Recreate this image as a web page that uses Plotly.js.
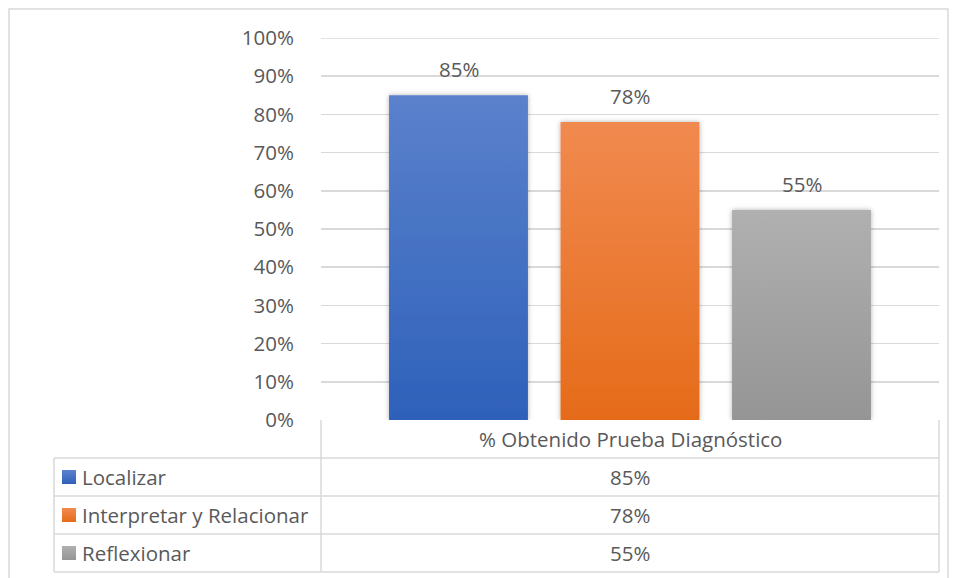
<!DOCTYPE html>
<html>
<head>
<meta charset="utf-8">
<script src="https://cdn.plot.ly/plotly-3.0.1.min.js"></script>
<style>html,body{margin:0;padding:0;background:#fff;}#chart{width:957px;height:578px;}</style>
</head>
<body>
<div id="chart"></div>
<script>
// ---- data ----
const seriesNames = ["Localizar", "Interpretar y Relacionar", "Reflexionar"];
const seriesValues = [0.85, 0.78, 0.55];
const categoryLabel = "% Obtenido Prueba Diagnóstico";
const yTickValues = [0, 0.1, 0.2, 0.3, 0.4, 0.5, 0.6, 0.7, 0.8, 0.9, 1.0];

// ---- style ----
const seriesColors = ["#4472C4", "#EC7A34", "#A2A2A2"];
const gradTop = ["#5B81CC", "#F18A50", "#B0B0B0"];
const gradBottom = ["#2E61BA", "#E56B19", "#959595"];
const textColor = "#595959";
const lineColor = "#D9D9D9";
const FONT = "'Open Sans', Arial, sans-serif";
const FS = 20.5;

// plot geometry (pixels)
const W = 957, H = 578;
const L = 321, R = 939, T = 38, B = 420;
const xp = px => (px - L) / (R - L);
const yp = py => (B - py) / (B - T);

const pct = v => Math.round(v * 100) + "%";

const trace = {
  type: "bar",
  x: seriesNames,
  y: seriesValues,
  marker: { color: seriesColors },
  hoverinfo: "none",
  showlegend: false
};

const shapes = [];
const annotations = [];

// outer chart border
shapes.push({type:"rect", xref:"paper", yref:"paper", x0:xp(9), x1:xp(948), y0:yp(9), y1:yp(600),
  line:{color:lineColor, width:1.5}, fillcolor:"rgba(0,0,0,0)", layer:"below"});

// top gridline (100%)
shapes.push({type:"line", xref:"paper", yref:"y", x0:0, x1:1, y0:1, y1:1, line:{color:lineColor, width:1.5}, layer:"below"});

// data table grid
const rowH = 38;
const headerTop = 420, headerBot = 458;
const tblLeft = 54, midX = 321, tblRight = 939;
const hline = (x0, x1, y) => shapes.push({type:"line", xref:"paper", yref:"paper", x0:xp(x0), x1:xp(x1), y0:yp(y), y1:yp(y), line:{color:lineColor, width:1.5}});
const vline = (x, y0, y1) => shapes.push({type:"line", xref:"paper", yref:"paper", x0:xp(x), x1:xp(x), y0:yp(y0), y1:yp(y1), line:{color:lineColor, width:1.5}});

vline(midX, headerTop, headerBot + rowH * seriesNames.length);
vline(tblRight, headerTop, headerBot + rowH * seriesNames.length);
vline(tblLeft, headerBot, headerBot + rowH * seriesNames.length);
for (let i = 0; i <= seriesNames.length; i++) {
  hline(tblLeft, tblRight, headerBot + rowH * i);
}

// header text
annotations.push({xref:"paper", yref:"paper", x:xp((midX + tblRight) / 2), y:yp((headerTop + headerBot) / 2),
  text:categoryLabel, showarrow:false, xanchor:"center", yanchor:"middle", font:{family:FONT, size:FS, color:textColor}});

seriesNames.forEach((name, i) => {
  const cy = headerBot + rowH * i + rowH / 2;
  // legend key
  shapes.push({type:"rect", xref:"paper", yref:"paper", x0:xp(62), x1:xp(76), y0:yp(cy - 7), y1:yp(cy + 7),
    fillcolor:seriesColors[i], line:{width:0}, name:"key" + i});
  annotations.push({xref:"paper", yref:"paper", x:xp(80), y:yp(cy), text:name, showarrow:false,
    xanchor:"left", yanchor:"middle", font:{family:FONT, size:FS, color:textColor}});
  annotations.push({xref:"paper", yref:"paper", x:xp((midX + tblRight) / 2), y:yp(cy), text:pct(seriesValues[i]), showarrow:false,
    xanchor:"center", yanchor:"middle", font:{family:FONT, size:FS, color:textColor}});
  // data label above bar
  annotations.push({xref:"x", yref:"y", x:name, y:seriesValues[i], text:pct(seriesValues[i]), showarrow:false,
    xanchor:"center", yanchor:"middle", yshift:26, font:{family:FONT, size:FS, color:textColor}});
});

const layout = {
  width: W, height: H,
  margin: {l: L, r: W - R, t: T, b: H - B, pad: 0},
  paper_bgcolor: "#ffffff",
  plot_bgcolor: "#ffffff",
  bargap: 0.19,
  xaxis: {
    type: "category",
    range: [-0.8017, 2.8017],
    showticklabels: false,
    showgrid: false,
    zeroline: false,
    showline: false,
    ticks: "",
    fixedrange: true
  },
  yaxis: {
    range: [0, 1],
    tickvals: yTickValues,
    tickformat: ".0%",
    showgrid: true,
    gridcolor: lineColor,
    gridwidth: 1.5,
    zeroline: false,
    showline: false,
    ticks: "outside",
    ticklen: 22,
    tickcolor: "rgba(0,0,0,0)",
    tickfont: {family: FONT, size: FS, color: textColor},
    fixedrange: true
  },
  shapes: shapes,
  annotations: annotations,
  showlegend: false
};

Plotly.newPlot("chart", [trace], layout, {staticPlot: true, displayModeBar: false}).then(gd => {
  // Excel-like vertical gradient fills and soft shadow on the bars
  const svgNS = "http://www.w3.org/2000/svg";
  const svg = gd.querySelector(".main-svg");
  let defs = svg.querySelector("defs");
  if (!defs) { defs = document.createElementNS(svgNS, "defs"); svg.insertBefore(defs, svg.firstChild); }
  seriesColors.forEach((c, i) => {
    const g = document.createElementNS(svgNS, "linearGradient");
    g.setAttribute("id", "barGrad" + i);
    g.setAttribute("x1", "0"); g.setAttribute("y1", "0");
    g.setAttribute("x2", "0"); g.setAttribute("y2", "1");
    [[0, gradTop[i]], [1, gradBottom[i]]].forEach(([o, col]) => {
      const s = document.createElementNS(svgNS, "stop");
      s.setAttribute("offset", o); s.setAttribute("stop-color", col);
      g.appendChild(s);
    });
    defs.appendChild(g);
  });
  const f = document.createElementNS(svgNS, "filter");
  f.setAttribute("id", "barShadow");
  f.setAttribute("x", "-20%"); f.setAttribute("y", "-20%");
  f.setAttribute("width", "140%"); f.setAttribute("height", "140%");
  const ds = document.createElementNS(svgNS, "feDropShadow");
  ds.setAttribute("dx", "0"); ds.setAttribute("dy", "0");
  ds.setAttribute("stdDeviation", "2.5");
  ds.setAttribute("flood-color", "#000"); ds.setAttribute("flood-opacity", "0.3");
  f.appendChild(ds);
  defs.appendChild(f);

  gd.querySelectorAll(".barlayer .point path").forEach((p, i) => {
    p.style.fill = "url(#barGrad" + i + ")";
    p.setAttribute("filter", "url(#barShadow)");
  });
  gd.querySelectorAll(".shapelayer path").forEach(p => {
    const idx = p.getAttribute("data-index");
    const sh = layout.shapes[+idx];
    if (sh && sh.name && sh.name.startsWith("key")) {
      p.style.fill = "url(#barGrad" + sh.name.slice(3) + ")";
    }
  });
});
</script>
</body>
</html>
